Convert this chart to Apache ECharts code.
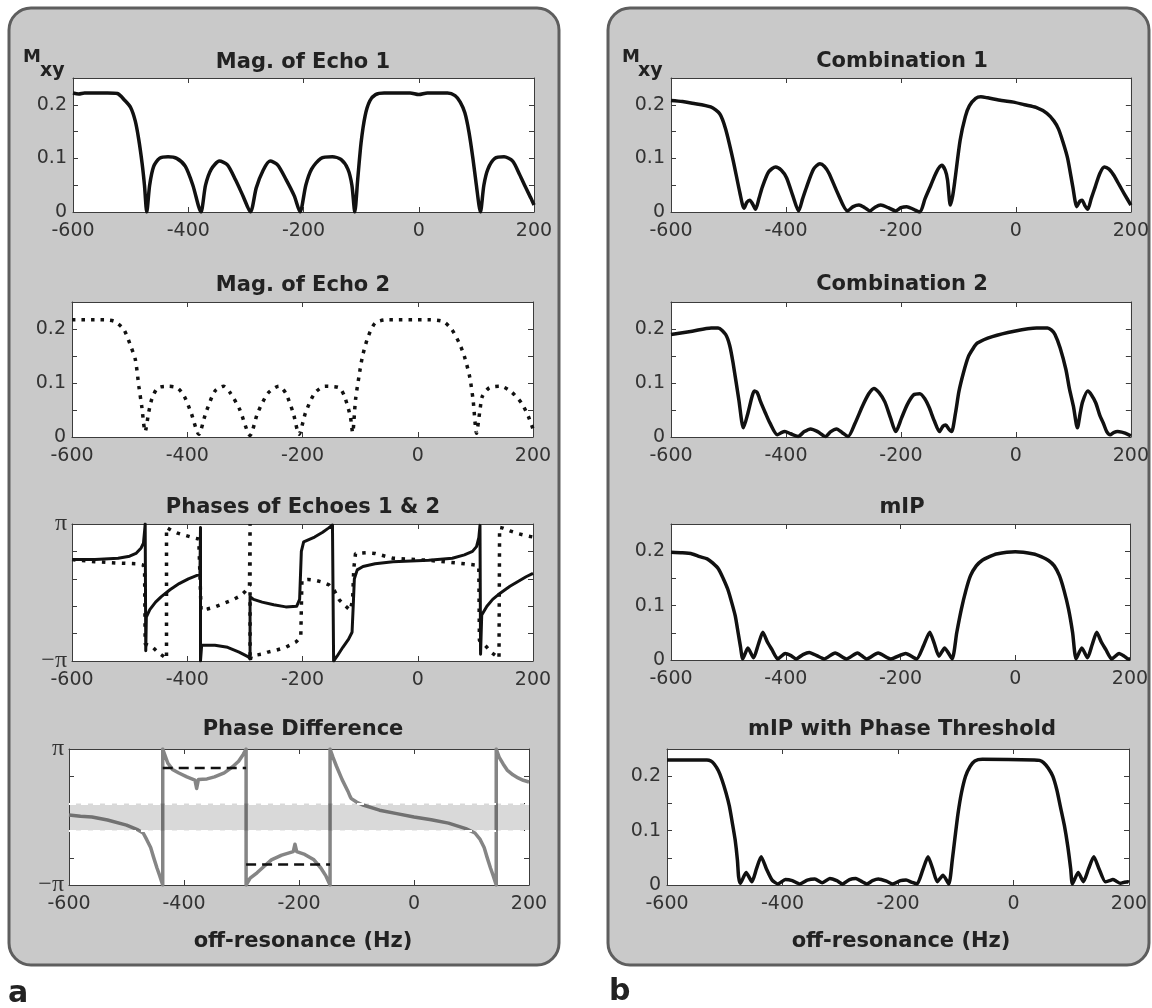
<!DOCTYPE html>
<html><head><meta charset="utf-8">
<script src="https://cdn.jsdelivr.net/npm/echarts/dist/echarts.min.js"></script>
<style>html,body{margin:0;padding:0;background:#fff}#c{width:1152px;height:1008px}</style>
</head><body><div id="c"></div><script>
// ---------------- data (x in Hz, magnitudes in Mxy, phases in units of pi) ----------------
const X_MIN = -600, X_MAX = 200, X_STEP = 200;
const MAG_MIN = 0, MAG_MAX = 0.25, MAG_STEP = 0.05;
const MAG_LABELS = ['0', '0.1', '0.2'];
const PH_MIN = -1, PH_MAX = 1, PH_STEP = 0.4;
const PH_LABELS = ['−π', 'π'];

const mag1 = [[-600,0.222],[-590,0.220],[-580,0.222],[-540,0.222],[-523,0.221],[-510,0.208],[-500,0.195],[-492,0.17],[-486,0.136],[-480,0.09],[-476,0.05],[-472,0.0],[-467,0.05],[-460,0.085],[-450,0.1],[-435,0.103],[-420,0.1],[-405,0.085],[-392,0.05],[-378,0],[-370,0.05],[-360,0.08],[-346,0.095],[-332,0.088],[-318,0.06],[-305,0.03],[-292,0],[-282,0.045],[-270,0.078],[-258,0.095],[-245,0.088],[-230,0.06],[-216,0.03],[-206,0],[-196,0.05],[-186,0.08],[-170,0.1],[-150,0.103],[-135,0.098],[-123,0.08],[-116,0.05],[-111,0],[-106,0.06],[-100,0.13],[-93,0.18],[-85,0.207],[-75,0.219],[-60,0.222],[-15,0.222],[0,0.219],[15,0.222],[50,0.222],[63,0.217],[72,0.205],[80,0.185],[87,0.15],[94,0.1],[100,0.05],[107,0],[113,0.05],[120,0.08],[132,0.1],[148,0.103],[163,0.095],[175,0.07],[185,0.047],[195,0.025],[200,0.013]];

const mag2 = [[-600,0.217],[-544,0.217],[-526,0.214],[-510,0.199],[-498,0.168],[-490,0.143],[-484,0.094],[-479,0.057],[-473,0.01],[-467,0.045],[-461,0.072],[-451,0.091],[-433,0.094],[-417,0.091],[-405,0.075],[-393,0.044],[-380,0.005],[-368,0.044],[-352,0.085],[-337,0.094],[-325,0.081],[-309,0.051],[-291,0.003],[-278,0.044],[-260,0.081],[-241,0.094],[-229,0.081],[-216,0.044],[-206,0.005],[-195,0.044],[-179,0.081],[-161,0.094],[-136,0.091],[-127,0.075],[-117,0.038],[-113,0.008],[-108,0.069],[-102,0.112],[-96,0.149],[-86,0.186],[-74,0.211],[-55,0.217],[19,0.217],[44,0.214],[59,0.199],[72,0.174],[81,0.149],[90,0.112],[96,0.069],[102,0.007],[108,0.05],[112,0.075],[124,0.091],[143,0.094],[161,0.085],[180,0.063],[192,0.038],[200,0.015]];

const phase1 = [[-600,0.48],[-560,0.48],[-520,0.5],[-500,0.53],[-489,0.57],[-480,0.65],[-476,0.72],[-474,0.9],[-473,1.0],[-472,-0.85],[-471,-0.36],[-465,-0.25],[-455,-0.14],[-445,-0.06],[-430,0.04],[-414,0.13],[-398,0.2],[-383,0.25],[-378,0.26],[-377,0.95],[-377,-1.0],[-375,-0.77],[-352,-0.77],[-330,-0.8],[-310,-0.87],[-294,-0.94],[-291,-0.97],[-291,-0.06],[-285,-0.1],[-270,-0.14],[-250,-0.18],[-229,-0.21],[-210,-0.2],[-205,-0.1],[-202,0.6],[-198,0.74],[-190,0.77],[-179,0.81],[-165,0.88],[-155,0.94],[-148,0.985],[-146,1.0],[-146,-1.0],[-140,-0.93],[-130,-0.8],[-120,-0.68],[-114,-0.58],[-112,-0.2],[-110,0.2],[-105,0.33],[-95,0.38],[-74,0.42],[-43,0.45],[19,0.47],[60,0.5],[81,0.55],[95,0.6],[102,0.67],[106,0.8],[108,0.98],[109,-0.9],[111,-0.33],[120,-0.2],[130,-0.1],[143,-0.01],[160,0.09],[174,0.16],[188,0.23],[200,0.28]];

const phase2 = [[-600,0.48],[-560,0.45],[-520,0.43],[-489,0.42],[-476,0.4],[-474,0.3],[-473,-0.75],[-468,-0.77],[-460,-0.8],[-450,-0.88],[-440,-0.94],[-436,-0.97],[-436,0.95],[-428,0.91],[-418,0.87],[-406,0.84],[-390,0.8],[-380,0.78],[-376,-0.26],[-365,-0.24],[-352,-0.21],[-337,-0.16],[-322,-0.11],[-308,-0.05],[-300,0.01],[-292,0.1],[-291,1.0],[-291,-1.0],[-289,-0.93],[-285,-0.92],[-270,-0.9],[-260,-0.87],[-245,-0.84],[-229,-0.8],[-211,-0.72],[-203,-0.65],[-201,0.18],[-190,0.19],[-179,0.18],[-165,0.15],[-154,0.11],[-145,0.03],[-136,-0.11],[-125,-0.2],[-117,-0.26],[-113,-0.1],[-111,0.35],[-108,0.57],[-90,0.58],[-74,0.57],[-43,0.5],[19,0.47],[81,0.42],[102,0.4],[106,0.38],[107,-0.7],[114,-0.75],[120,-0.8],[127,-0.87],[135,-0.92],[141,-0.96],[142,0.95],[148,0.94],[160,0.9],[174,0.86],[188,0.83],[200,0.81]];

const phaseDiff = [[-600,0.03],[-580,0.01],[-560,0],[-533,-0.045],[-500,-0.12],[-480,-0.19],[-471,-0.235],[-465,-0.33],[-458,-0.45],[-453,-0.59],[-447,-0.75],[-442,-0.87],[-437,-1],[-437,1],[-432,0.88],[-428,0.79],[-420,0.7],[-409,0.647],[-395,0.59],[-381,0.544],[-378,0.42],[-375,0.55],[-360,0.56],[-347,0.59],[-330,0.65],[-316,0.735],[-305,0.82],[-297,0.92],[-292,1],[-292,-1],[-285,-0.9],[-273,-0.82],[-260,-0.72],[-248,-0.63],[-230,-0.56],[-210,-0.51],[-207,-0.4],[-204,-0.51],[-190,-0.55],[-174,-0.63],[-162,-0.75],[-153,-0.87],[-146,-1],[-146,1],[-141,0.88],[-135,0.75],[-125,0.55],[-115,0.38],[-111,0.3],[-109,0.27],[-100,0.22],[-90,0.18],[-60,0.1],[-30,0.05],[0,0],[30,-0.04],[60,-0.09],[90,-0.17],[106,-0.235],[115,-0.33],[122,-0.45],[127,-0.59],[133,-0.75],[138,-0.87],[143,-1],[143,1],[148,0.88],[155,0.78],[162,0.69],[172,0.62],[181,0.574],[190,0.54],[200,0.515]];
const diffMeanHi = [[-437,0.72],[-292,0.72]];
const diffMeanLo = [[-292,-0.7],[-146,-0.7]];
const bandEdges = [-0.2, 0.2];

const comb1 = [[-600,0.208],[-580,0.206],[-563,0.203],[-531,0.196],[-515,0.183],[-505,0.155],[-492,0.097],[-480,0.035],[-473,0.007],[-468,0.018],[-463,0.022],[-458,0.015],[-453,0.005],[-447,0.025],[-441,0.047],[-430,0.075],[-418,0.084],[-408,0.078],[-399,0.064],[-388,0.03],[-378,0.002],[-371,0.025],[-364,0.047],[-352,0.08],[-341,0.09],[-333,0.085],[-325,0.072],[-310,0.035],[-293,0.002],[-283,0.01],[-273,0.013],[-263,0.008],[-254,0.002],[-245,0.009],[-235,0.013],[-222,0.008],[-209,0.002],[-200,0.008],[-190,0.01],[-178,0.005],[-167,0.0],[-158,0.025],[-148,0.05],[-138,0.075],[-129,0.087],[-123,0.078],[-119,0.06],[-114,0.013],[-110,0.03],[-106,0.06],[-97,0.134],[-88,0.178],[-81,0.198],[-70,0.212],[-61,0.215],[-49,0.213],[-25,0.208],[-4,0.205],[15,0.2],[35,0.195],[54,0.184],[66,0.17],[74,0.155],[82,0.13],[90,0.1],[99,0.047],[106,0.01],[111,0.02],[115,0.022],[120,0.012],[125,0.005],[131,0.025],[138,0.047],[146,0.072],[154,0.084],[162,0.08],[170,0.069],[180,0.05],[189,0.033],[200,0.013]];

const comb2 = [[-600,0.19],[-563,0.196],[-530,0.202],[-518,0.202],[-505,0.19],[-498,0.17],[-492,0.137],[-482,0.069],[-474,0.017],[-466,0.045],[-459,0.075],[-455,0.085],[-450,0.082],[-444,0.065],[-436,0.045],[-428,0.026],[-415,0.004],[-408,0.008],[-402,0.01],[-392,0.006],[-379,0.001],[-368,0.01],[-357,0.015],[-345,0.01],[-331,0.001],[-322,0.01],[-312,0.015],[-302,0.008],[-292,0.001],[-280,0.025],[-267,0.057],[-256,0.08],[-247,0.09],[-238,0.082],[-228,0.065],[-218,0.035],[-209,0.01],[-199,0.035],[-189,0.06],[-178,0.078],[-167,0.08],[-158,0.07],[-151,0.055],[-142,0.03],[-133,0.01],[-127,0.02],[-122,0.022],[-117,0.015],[-112,0.01],[-105,0.045],[-99,0.085],[-91,0.12],[-83,0.148],[-75,0.163],[-67,0.174],[-41,0.186],[-3,0.196],[36,0.202],[55,0.202],[62,0.198],[68,0.19],[77,0.165],[87,0.125],[93,0.09],[100,0.057],[107,0.017],[112,0.045],[116,0.065],[125,0.085],[132,0.077],[139,0.063],[146,0.04],[152,0.026],[158,0.01],[164,0.004],[170,0.008],[177,0.01],[184,0.009],[190,0.007],[200,0.002]];

const mip = [[-600,0.198],[-580,0.197],[-563,0.195],[-550,0.19],[-537,0.186],[-527,0.178],[-517,0.167],[-509,0.15],[-501,0.13],[-494,0.105],[-488,0.081],[-483,0.05],[-479,0.025],[-475,0.002],[-466,0.022],[-456,0.004],[-448,0.028],[-440,0.051],[-432,0.033],[-424,0.019],[-414,0.002],[-401,0.012],[-391,0.008],[-382,0.002],[-370,0.01],[-359,0.014],[-346,0.008],[-333,0.002],[-314,0.013],[-294,0.002],[-275,0.013],[-259,0.002],[-239,0.013],[-217,0.002],[-191,0.012],[-172,0.002],[-160,0.026],[-149,0.051],[-141,0.03],[-133,0.007],[-123,0.022],[-110,0.002],[-102,0.05],[-94,0.093],[-86,0.128],[-78,0.155],[-68,0.173],[-58,0.183],[-45,0.19],[-33,0.195],[0,0.199],[32,0.195],[45,0.19],[58,0.183],[68,0.173],[77,0.155],[85,0.128],[93,0.093],[100,0.05],[106,0.002],[116,0.022],[126,0.004],[134,0.028],[142,0.051],[150,0.033],[158,0.019],[168,0.002],[181,0.012],[190,0.007],[197,0.002],[200,0.002]];

const mipThr = [[-600,0.23],[-531,0.23],[-524,0.228],[-518,0.222],[-511,0.21],[-505,0.194],[-498,0.17],[-492,0.145],[-487,0.115],[-482,0.083],[-478,0.045],[-476,0.015],[-473,0.003],[-463,0.023],[-453,0.006],[-445,0.03],[-437,0.052],[-428,0.03],[-418,0.009],[-408,0.002],[-395,0.01],[-383,0.008],[-370,0.002],[-357,0.009],[-344,0.011],[-331,0.004],[-318,0.012],[-306,0.008],[-296,0.002],[-284,0.01],[-273,0.012],[-262,0.006],[-254,0.002],[-244,0.008],[-234,0.011],[-220,0.007],[-209,0.002],[-196,0.008],[-186,0.009],[-176,0.005],[-167,0.002],[-157,0.028],[-148,0.052],[-140,0.03],[-132,0.006],[-122,0.018],[-112,0.002],[-106,0.046],[-101,0.09],[-96,0.132],[-90,0.17],[-83,0.2],[-75,0.218],[-67,0.228],[-54,0.231],[36,0.23],[45,0.229],[52,0.225],[60,0.215],[68,0.2],[75,0.175],[81,0.145],[88,0.11],[94,0.071],[99,0.03],[102,0.002],[112,0.023],[121,0.006],[130,0.03],[139,0.052],[148,0.03],[159,0.006],[166,0.008],[172,0.01],[178,0.007],[185,0.003],[192,0.005],[198,0.006],[200,0.005]];

// ---------------- layout ----------------
const FONT = 'DejaVu Sans';
const AX = '#3c3c3c';
const LABEL = '#333';
const plots = [
  {title:'Mag. of Echo 1', g:{left:73,top:78,width:461,height:134}, ty:63, cx:303, kind:'mag'},
  {title:'Mag. of Echo 2', g:{left:72,top:302,width:461,height:135}, ty:286, cx:303, kind:'mag'},
  {title:'Phases of Echoes 1 & 2', g:{left:72,top:524,width:461,height:137}, ty:508, cx:303, kind:'ph'},
  {title:'Phase Difference', g:{left:69,top:749,width:460,height:136}, ty:730, cx:303, kind:'ph'},
  {title:'Combination 1', g:{left:671,top:78,width:462,height:134}, ty:62, cx:902, kind:'mag'},
  {title:'Combination 2', g:{left:671,top:302,width:461,height:135}, ty:285, cx:902, kind:'mag'},
  {title:'mIP', g:{left:671,top:524,width:459,height:136}, ty:508, cx:902, kind:'mag'},
  {title:'mIP with Phase Threshold', g:{left:667,top:749,width:462,height:136}, ty:730, cx:902, kind:'mag'}
];

const near = (a,b) => Math.abs(a-b) < 1e-6;
function magFmt(v){ const vals=[0,0.1,0.2]; for(let i=0;i<vals.length;i++) if(near(v,vals[i])) return MAG_LABELS[i]; return ''; }
function phFmt(v){ if(near(v,PH_MIN)) return PH_LABELS[0]; if(near(v,PH_MAX)) return PH_LABELS[1]; return ''; }

const grid=[], xAxis=[], yAxis=[], series=[], graphic=[];
plots.forEach((p,i)=>{
  grid.push(Object.assign({show:true, backgroundColor:'#fff', borderWidth:0}, p.g));
  const xBase = {gridIndex:i, type:'value', min:X_MIN, max:X_MAX, interval:X_STEP, splitLine:{show:false},
    axisLine:{show:true,onZero:false,lineStyle:{color:AX,width:1}},
    axisTick:{show:true,inside:true,length:5,lineStyle:{color:AX,width:1}}};
  xAxis.push(Object.assign({}, xBase, {position:'bottom', axisLabel:{show:true, margin:10, color:LABEL, fontFamily:FONT, fontSize:19, showMinLabel:true, showMaxLabel:true}}));
  xAxis.push(Object.assign({}, xBase, {position:'top', axisLabel:{show:false}}));
  const isMag = p.kind==='mag';
  const yBase = {gridIndex:i, type:'value', min:isMag?MAG_MIN:PH_MIN, max:isMag?MAG_MAX:PH_MAX, interval:isMag?MAG_STEP:PH_STEP, splitLine:{show:false},
    axisLine:{show:true,onZero:false,lineStyle:{color:AX,width:1}},
    axisTick:{show:true,inside:true,length:5,lineStyle:{color:AX,width:1}}};
  yAxis.push(Object.assign({}, yBase, {position:'left', axisLabel:{show:true, margin:isMag?6:5, color:LABEL,
    fontFamily:isMag?FONT:'Liberation Serif', fontSize:isMag?19:24, showMinLabel:true, showMaxLabel:true, formatter:isMag?magFmt:phFmt}}));
  yAxis.push(Object.assign({}, yBase, {position:'right', axisLabel:{show:false}}));
  graphic.push({type:'text', z:100, style:{text:p.title, x:p.cx, y:p.ty, textAlign:'center', textVerticalAlign:'middle',
    font:'bold 21px "DejaVu Sans"', fill:'#222'}});
});

function line(idx, data, opts){
  return Object.assign({type:'line', xAxisIndex:idx*2, yAxisIndex:idx*2, data:data, showSymbol:false, symbol:'none',
    clip:true, animation:false, silent:true, z:2,
    lineStyle:{color:'#111', width:3.5, cap:'butt', join:'round'}}, opts||{});
}
series.push(line(0, mag1, {smooth:0.25}));
series.push(line(1, mag2, {smooth:0.25, lineStyle:{color:'#111', width:3.5, type:[3.5,6], cap:'butt'}}));
series.push(line(2, phase1, {lineStyle:{color:'#111', width:3, join:'round'}}));
series.push(line(2, phase2, {lineStyle:{color:'#111', width:3.5, type:[3.5,6.5], cap:'butt'}}));
series.push(line(3, phaseDiff, {lineStyle:{color:'#858585', width:3.5, join:'round'}}));
// shaded threshold band drawn over the curve (semi-transparent) with white dashed edges
series.push(line(3, phaseDiff, {z:3, lineStyle:{opacity:0, width:0},
  markArea:{silent:true, z:3, itemStyle:{color:'rgba(0,0,0,0.15)'}, data:[[{yAxis:bandEdges[0]},{yAxis:bandEdges[1]}]]},
  markLine:{silent:true, z:3, symbol:'none', label:{show:false}, lineStyle:{color:'#fff', width:2, type:[7,5]},
    data:[{yAxis:bandEdges[0]},{yAxis:bandEdges[1]}]}}));
series.push(line(3, diffMeanHi, {z:4, lineStyle:{color:'#111', width:2.5, type:[10,6], cap:'butt'}}));
series.push(line(3, diffMeanLo, {z:4, lineStyle:{color:'#111', width:2.5, type:[10,6], cap:'butt'}}));
series.push(line(4, comb1, {smooth:0.25}));
series.push(line(5, comb2, {smooth:0.25}));
series.push(line(6, mip, {smooth:0.2}));
series.push(line(7, mipThr, {smooth:0.2}));

// panels and labels
const panelStyle = {fill:'#c9c9c9', stroke:'#5e5e5e', lineWidth:3};
graphic.unshift(
  {type:'rect', z:-10, shape:{x:9,y:8,width:550,height:957,r:22}, style:panelStyle},
  {type:'rect', z:-10, shape:{x:608,y:8,width:541,height:957,r:22}, style:panelStyle}
);
[[23,40],[622,638]].forEach(([mx,sx])=>{
  graphic.push({type:'text', z:100, style:{text:'M', x:mx, y:57, textAlign:'left', textVerticalAlign:'middle', font:'bold 18px "DejaVu Sans"', fill:'#222'}});
  graphic.push({type:'text', z:100, style:{text:'xy', x:sx, y:71, textAlign:'left', textVerticalAlign:'middle', font:'bold 19px "DejaVu Sans"', fill:'#222'}});
});
[303, 901].forEach(cx=>{
  graphic.push({type:'text', z:100, style:{text:'off-resonance (Hz)', x:cx, y:942, textAlign:'center', textVerticalAlign:'middle', font:'bold 21px "DejaVu Sans"', fill:'#222'}});
});
graphic.push({type:'text', z:100, style:{text:'a', x:8, y:994, textAlign:'left', textVerticalAlign:'middle', font:'bold 30px "DejaVu Sans"', fill:'#222'}});
graphic.push({type:'text', z:100, style:{text:'b', x:609, y:992, textAlign:'left', textVerticalAlign:'middle', font:'bold 30px "DejaVu Sans"', fill:'#222'}});

const chart = echarts.init(document.getElementById('c'), null, {renderer:'canvas'});
chart.setOption({backgroundColor:'#fff', animation:false, grid, xAxis, yAxis, series, graphic});
</script></body></html>
